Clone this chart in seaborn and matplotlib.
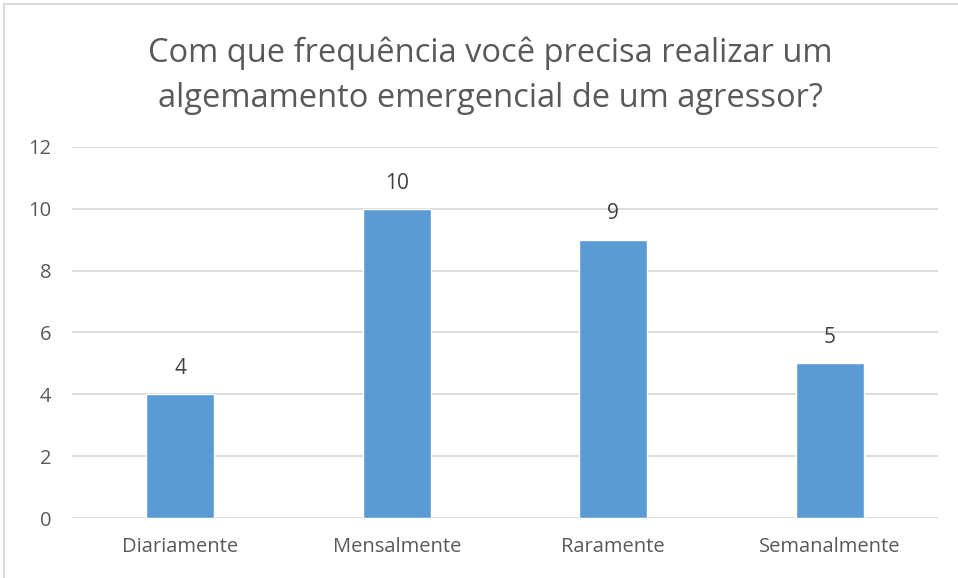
import pandas as pd
import matplotlib.pyplot as plt
import seaborn as sns
from matplotlib.patches import Rectangle

# Dados do gráfico
categorias = ['Diariamente', 'Mensalmente', 'Raramente', 'Semanalmente']
respostas = [4, 10, 9, 5]
ticks_y = [0, 2, 4, 6, 8, 10, 12]

df = pd.DataFrame({'Frequência': categorias, 'Respostas': respostas})

sns.set_theme(style="white")
plt.rcParams['font.family'] = ['Open Sans', 'DejaVu Sans']

fig = plt.figure(figsize=(9.58, 5.78), dpi=100)
ax = fig.add_axes([0.0752, 0.1038, 0.9038, 0.6419])

sns.barplot(data=df, x='Frequência', y='Respostas', color='#5b9bd5',
            width=0.314, saturation=1, ax=ax, zorder=3)

ax.set_ylim(0, 12)
ax.set_xlim(-0.5, 3.5)
ax.set_yticks(ticks_y)
ax.yaxis.grid(True, color='#d9d9d9', linewidth=1.3, zorder=0)
ax.set_axisbelow(True)
for s in ax.spines.values():
    s.set_visible(False)
ax.tick_params(axis='both', length=0, labelsize=14.5, labelcolor='#595959')
ax.tick_params(axis='y', pad=15)
ax.tick_params(axis='x', pad=14)
ax.set_xlabel('')
ax.set_ylabel('')

for i, v in enumerate(respostas):
    ax.annotate(str(v), (i, v), xytext=(0, 11), textcoords='offset points',
                ha='center', va='bottom', fontsize=15, color='#404040')

fig.text(0.512, 0.869, 'Com que frequência você precisa realizar um\nalgemamento emergencial de um agressor?',
         ha='center', va='center', fontsize=23.5, color='#595959', linespacing=1.45)

# moldura do gráfico
fig.patches.append(Rectangle((4 / 958, -0.1), 1.2, 1 - 4 / 578 + 0.1,
                             transform=fig.transFigure, fill=False,
                             edgecolor='#d9d9d9', linewidth=1.5))

fig.savefig('out.png', dpi=100)
